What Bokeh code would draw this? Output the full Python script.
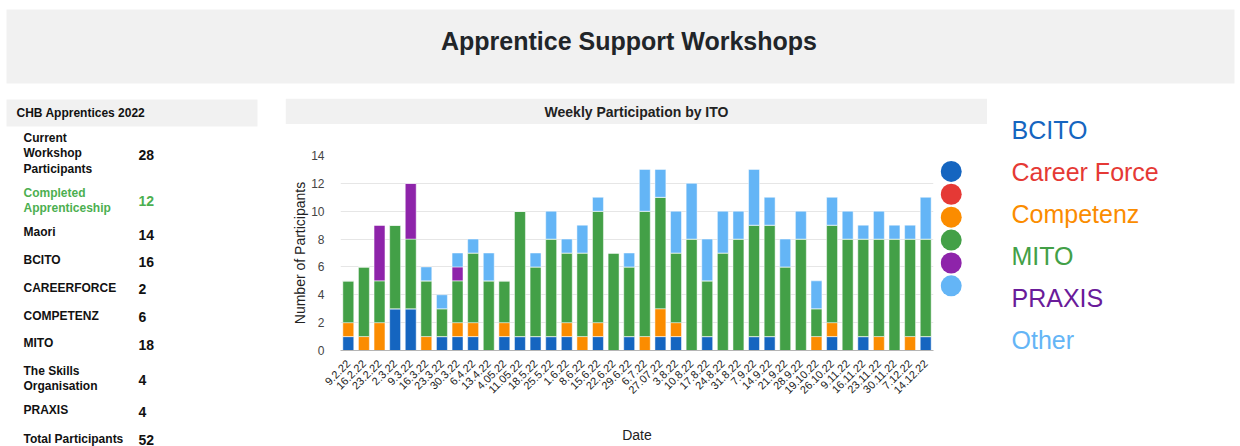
import math
from bokeh.plotting import figure
from bokeh.models import ColumnDataSource, Range1d, FactorRange, SingleIntervalTicker
from bokeh.layouts import row, column
from bokeh.core.properties import value
from bokeh.embed import file_html
from bokeh.resources import INLINE

# ---------------- data ----------------
page_title = "Apprentice Support Workshops"
chart_title = "Weekly Participation by ITO"
table_title = "CHB Apprentices 2022"

table_labels = ["Current\nWorkshop\nParticipants", "Completed\nApprenticeship", "Maori", "BCITO",
                "CAREERFORCE", "COMPETENZ", "MITO", "The Skills\nOrganisation", "PRAXIS",
                "Total Participants"]
table_values = ["28", "12", "14", "16", "2", "6", "18", "4", "4", "52"]

dates = ["9.2.22", "16.2.22", "23.2.22", "2.3.22", "9.3.22", "16.3.22", "23.3.22", "30.3.22",
         "6.4.22", "13.4.22", "4.05.22", "11.05.22", "18.5.22", "25.5.22", "1.6.22", "8.6.22",
         "15.6.22", "22.6.22", "29.6.22", "6.7.22", "27.07.22", "3.8.22", "10.8.22", "17.8.22",
         "24.8.22", "31.8.22", "7.9.22", "14.9.22", "21.9.22", "28.9.22", "19.10.22", "26.10.22",
         "9.11.22", "16.11.22", "23.11.22", "30.11.22", "7.12.22", "14.12.22"]

bcito        = [1, 0, 0, 3, 3, 0, 1, 1, 1, 0, 1, 1, 1, 1, 1, 0, 1, 0, 1, 0, 1, 1, 0, 1, 0, 0, 1, 1, 0, 0, 0, 1, 0, 1, 0, 0, 0, 1]
career_force = [0] * 38
competenz    = [1, 1, 2, 0, 0, 1, 0, 1, 1, 0, 1, 0, 0, 0, 1, 1, 1, 0, 0, 1, 2, 1, 0, 0, 0, 0, 0, 0, 0, 0, 1, 1, 0, 0, 1, 0, 1, 0]
mito         = [3, 5, 3, 6, 5, 4, 2, 3, 5, 5, 3, 9, 5, 7, 5, 6, 8, 7, 5, 9, 8, 5, 8, 4, 7, 8, 8, 8, 6, 8, 2, 7, 8, 7, 7, 8, 7, 7]
praxis       = [0, 0, 4, 0, 4, 0, 0, 1, 0, 0, 0, 0, 0, 0, 0, 0, 0, 0, 0, 0, 0, 0, 0, 0, 0, 0, 0, 0, 0, 0, 0, 0, 0, 0, 0, 0, 0, 0]
other        = [0, 0, 0, 0, 0, 1, 1, 1, 1, 2, 0, 0, 1, 2, 1, 2, 1, 0, 1, 3, 2, 3, 4, 3, 3, 2, 4, 2, 2, 2, 2, 2, 2, 1, 2, 1, 1, 3]

series_keys = ["bcito", "career_force", "competenz", "mito", "praxis", "other"]
series_names = ["BCITO", "Career Force", "Competenz", "MITO", "PRAXIS", "Other"]
series_colors = ["#1565C0", "#E53935", "#FB8C00", "#43A047", "#8E24AA", "#64B5F6"]
legend_text_colors = ["#1565C0", "#E53935", "#FB8C00", "#43A047", "#6A1B9A", "#64B5F6"]

FONT = value("Liberation Sans")


def blank(w, h, y_range=None):
    f = figure(width=w, height=h, x_range=Range1d(0, w),
               y_range=y_range if y_range is not None else Range1d(h, 0),
               output_backend="svg", toolbar_location=None, min_border=0,
               x_axis_type=None, y_axis_type=None)
    f.grid.visible = False
    f.outline_line_color = None
    return f


# ---------------- banner ----------------
banner = blank(1240, 98)
banner.quad(left=[6], right=[1234], top=[9], bottom=[83], fill_color="#f1f1f1", line_color=None)
banner.text(x=[628.5], y=[40], text=[page_title], text_align="center", text_baseline="middle",
            text_font=FONT, text_font_style="bold", text_font_size="25px", text_color="#212529")

# ---------------- left table ----------------
left = blank(285, 348)
left.quad(left=[6], right=[257], top=[1], bottom=[28], fill_color="#f1f1f1", line_color=None)
left.text(x=[16], y=[14], text=[table_title], text_align="left", text_baseline="middle",
          text_font=FONT, text_font_style="bold", text_font_size="12px", text_color="#111111")
row_y = [54.7, 102, 133.7, 161.3, 189.3, 217, 244.7, 280, 311.3, 340]
val_y = [56, 102.3, 136, 163, 190.3, 218.7, 246.3, 281.3, 313.7, 341]
lab_colors = ["#111111"] * len(table_labels)
lab_colors[1] = "#4CAF50"
tsrc = ColumnDataSource(dict(y=row_y, vy=val_y, lab=table_labels, val=table_values, col=lab_colors))
left.text(x=23, y="y", text="lab", source=tsrc, text_align="left", text_baseline="middle",
          text_font=FONT, text_font_style="bold", text_font_size="12px", text_color="col",
          text_line_height=1.12)
left.text(x=138, y="vy", text="val", source=tsrc, text_align="left", text_baseline="middle",
          text_font=FONT, text_font_style="bold", text_font_size="14px", text_color="col")

# ---------------- chart header ----------------
header = blank(702, 26)
header.quad(left=[0], right=[702], top=[0], bottom=[26], fill_color="#f1f1f1", line_color=None)
header.text(x=[351], y=[13], text=[chart_title], text_align="center", text_baseline="middle",
            text_font=FONT, text_font_style="bold", text_font_size="14px", text_color="#222222")

# ---------------- chart ----------------
data = dict(date=dates, bcito=bcito, career_force=career_force, competenz=competenz,
            mito=mito, praxis=praxis, other=other)
src = ColumnDataSource(data)

yr = Range1d(0, 14)
p = figure(width=655, height=322, x_range=FactorRange(factors=dates), y_range=yr,
           output_backend="svg", toolbar_location=None,
           min_border_left=55, min_border_right=7, min_border_top=31, min_border_bottom=94)
p.outline_line_color = None
p.vbar_stack(series_keys, x="date", width=0.7, color=series_colors, source=src,
             line_color="white", line_width=0.8, line_alpha=0.6)

p.xgrid.grid_line_color = None
p.ygrid.grid_line_color = "#e6e6e6"
p.yaxis.ticker = SingleIntervalTicker(interval=2)
p.yaxis.axis_line_color = None
p.yaxis.major_tick_line_color = None
p.yaxis.minor_tick_line_color = None
p.yaxis.major_label_standoff = 10
p.yaxis.major_label_text_font = "Liberation Sans"
p.yaxis.major_label_text_font_size = "12px"
p.yaxis.major_label_text_color = "#444444"
p.yaxis.axis_label = "Number of Participants"
p.yaxis.axis_label_standoff = 0
p.yaxis.axis_label_text_font = "Liberation Sans"
p.yaxis.axis_label_text_font_style = "normal"
p.yaxis.axis_label_text_font_size = "14px"
p.yaxis.axis_label_text_color = "#222222"

p.xaxis.axis_line_color = "#b5b5b5"
p.xaxis.major_tick_line_color = None
p.xaxis.minor_tick_line_color = None
p.xaxis.major_label_orientation = math.pi / 4
p.xaxis.major_label_standoff = 5
p.xaxis.major_label_text_font = "Liberation Sans"
p.xaxis.major_label_text_font_size = "11px"
p.xaxis.major_label_text_color = "#222222"
p.xaxis.axis_label = "Date"
p.xaxis.axis_label_standoff = 27
p.xaxis.axis_label_text_font = "Liberation Sans"
p.xaxis.axis_label_text_font_style = "normal"
p.xaxis.axis_label_text_font_size = "14px"
p.xaxis.axis_label_text_color = "#222222"

# ---------------- legend circles (share the chart's vertical scale) ----------------
circ = blank(47, 322, y_range=yr)
csrc = ColumnDataSource(dict(x=[10.7] * 6, y=[12.86 - 1.644 * i for i in range(6)], c=series_colors))
circ.scatter(x="x", y="y", size=21, fill_color="c", line_color=None, source=csrc)

# ---------------- legend texts ----------------
leg = blank(253, 348)
lsrc = ColumnDataSource(dict(x=[24] * 6, y=[31.5 + 42 * i for i in range(6)], t=series_names,
                             c=legend_text_colors))
leg.text(x="x", y="y", text="t", text_color="c", source=lsrc, text_align="left",
         text_baseline="middle", text_font=FONT, text_font_size="25px")

layout = column(banner, row(left, column(header, row(p, circ)), leg))

open("out.html", "w").write(file_html(layout, INLINE))
